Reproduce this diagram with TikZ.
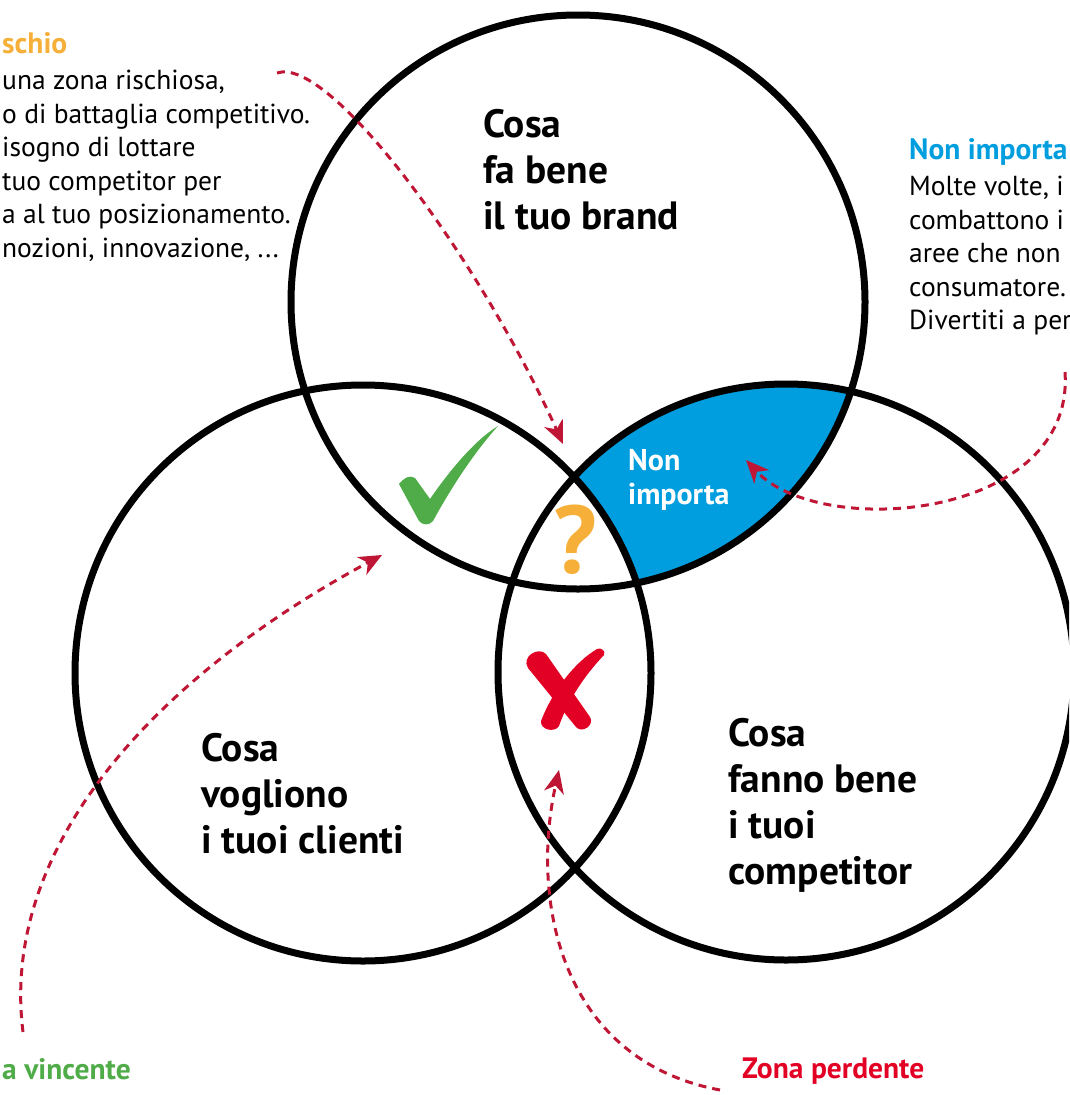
\documentclass[tikz,border=0pt]{standalone}
\usepackage{fontspec}
\setmainfont{PT Sans}
\usetikzlibrary{arrows.meta}
\definecolor{arrowred}{RGB}{190,22,52}
\definecolor{zoneblue}{RGB}{0,158,222}
\definecolor{riskorange}{RGB}{246,176,58}
\definecolor{wingreen}{RGB}{80,172,72}
\definecolor{losered}{RGB}{226,0,36}
\newcommand\headfont{\fontsize{29.5}{33.5}\selectfont\bfseries}
\tikzset{
  venn/.style={line width=7pt},
  pointer/.style={draw=arrowred, line width=3pt, dash pattern=on 8pt off 6pt,
    -{Stealth[length=23pt,width=20pt,inset=7pt]}},
  bigtxt/.style={anchor=north west, inner sep=0pt, align=left,
    font=\fontsize{39.5}{46}\selectfont\bfseries},
  notetxt/.style={anchor=north west, inner sep=0pt, align=left,
    font=\fontsize{27.5}{33.5}\selectfont},
  headtxt/.style={anchor=base west, inner sep=0pt, font=\headfont},
}
\begin{document}
\begin{tikzpicture}[x=1pt,y=-1pt]
\useasboundingbox (0,0) rectangle (1069,1095);
\clip (0,0) rectangle (1069,1095);

% blue zone: brand and competitor, not clients
\begin{scope}
\clip (578,302) circle[radius=287pt];
\clip (786,672) circle[radius=288pt];
\fill[zoneblue, even odd rule] (786,672) circle[radius=288pt] (363,673) circle[radius=288pt];
\end{scope}

% the three circles
\draw[venn] (578,302) circle[radius=287pt];
\draw[venn] (363,673) circle[radius=288pt];
\draw[venn] (786,672) circle[radius=288pt];

% circle labels
\node[bigtxt] (brand) at (483,109) {Cosa\\fa bene\\il tuo brand};
\node[bigtxt] (clienti) at (201,733) {Cosa\\vogliono\\i tuoi clienti};
\node[bigtxt] (competitor) at (728,718) {Cosa\\fanno bene\\i tuoi\\competitor};
\node[anchor=north west, inner sep=0pt, align=left, text=white,
  font=\fontsize{30}{34}\selectfont\bfseries] (nonimp) at (628,449) {Non\\importa};

% zone marks
\fill[wingreen] (399,484) .. controls (405,477) and (410,475) .. (415,478) -- (430,499)
  .. controls (450,470) and (475,440) .. (498,426)
  .. controls (472,455) and (450,490) .. (433,521)
  .. controls (429,526) and (422,525) .. (419,521) -- cycle;
\node[inner sep=0pt, text=riskorange, font=\fontsize{96}{96}\selectfont\bfseries] (qmark) at (575,540) {?};
\fill[losered] (528,668) .. controls (521,657) and (538,646) .. (546,654) -- (590,717)
  .. controls (595,725) and (582,734) .. (576,727) -- cycle;
\fill[losered] (604,655) .. controls (585,675) and (568,700) .. (559,726)
  .. controls (555,733) and (540,730) .. (541,721)
  .. controls (553,690) and (575,662) .. (597,649)
  .. controls (601,647) and (606,651) .. (604,655) -- cycle;

% side notes
\node[notetxt] (rischioNote) at (2,32) {{\headfont\color{riskorange}schio}\\[3pt]
  una zona rischiosa,\\o di battaglia competitivo.\\isogno di lottare\\tuo competitor per\\
  a al tuo posizionamento.\\nozioni, innovazione, ...};
\node[notetxt] (nonimpNote) at (909,138) {{\headfont\color{zoneblue}Non importa}\\[3pt]
  Molte volte, i c\\combattono i\\aree che non\\consumatore.\\Divertiti a per};
\node[headtxt, text=wingreen] (vincenteNote) at (2,1079) {a vincente};
\node[headtxt, text=losered] (perdenteNote) at (742,1078) {Zona perdente};

% pointers
\coordinate (rischioStart) at (277,73);
\coordinate (rischioTip) at (563,444);
\coordinate (vincenteStart) at (23,1032);
\coordinate (vincenteTip) at (382,555);
\coordinate (nonimpStart) at (1065,372);
\coordinate (nonimpTip) at (746,460);
\coordinate (perdenteStart) at (720,1090);
\coordinate (perdenteTip) at (559,770);
\draw[pointer] (rischioStart) .. controls (330,55) and (480,260) .. (rischioTip);
\draw[pointer] (vincenteStart) .. controls (0,850) and (150,680) .. (vincenteTip);
\draw[pointer] (nonimpStart) .. controls (1075,520) and (820,540) .. (nonimpTip);
\draw[pointer] (perdenteStart) .. controls (560,1060) and (530,900) .. (perdenteTip);
\end{tikzpicture}
\end{document}
